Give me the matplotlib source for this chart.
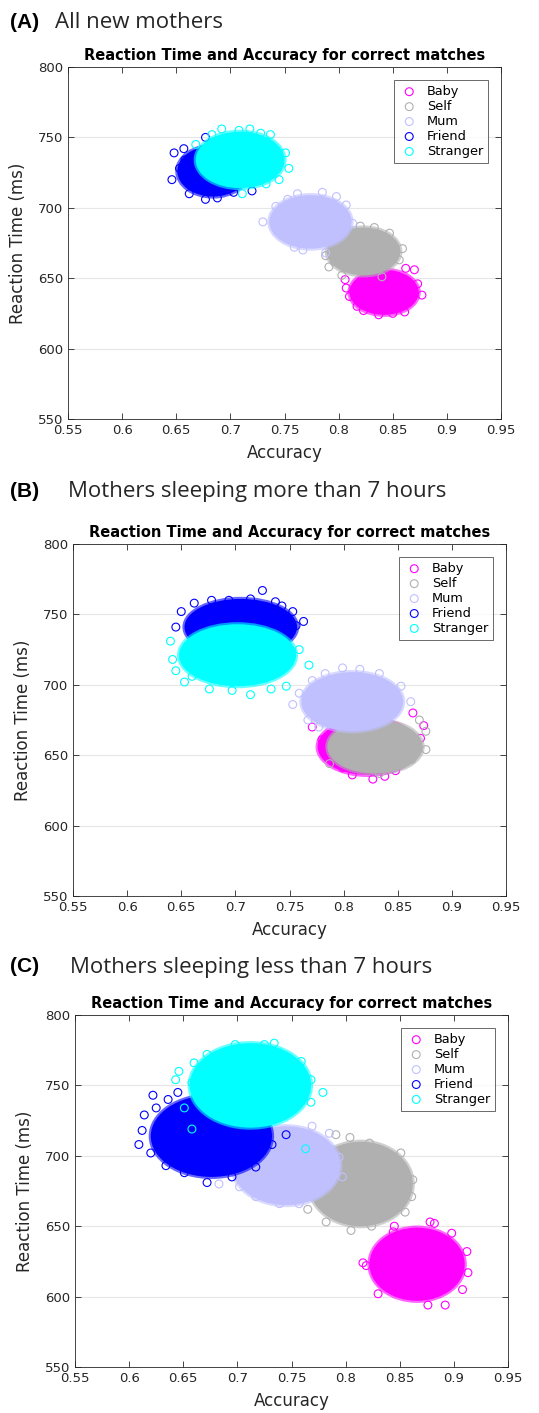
import numpy as np
import matplotlib.pyplot as plt
from matplotlib.patches import Ellipse
from matplotlib.colors import to_rgba

# groups, drawn in this order (Stranger ends on top)
groups = ['Baby', 'Self', 'Mum', 'Friend', 'Stranger']
colors = ['#ff00ff', '#b0b0b0', '#c0c0ff', '#0000ff', '#00ffff']

headings = ['All new mothers', 'Mothers sleeping more than 7 hours', 'Mothers sleeping less than 7 hours']
letters = ['(A)', '(B)', '(C)']

# dense body of each bootstrap cloud: centre and half-spread
acc_mid_A = [0.842, 0.823, 0.774, 0.684, 0.709]
rt_mid_A = [640, 669, 690, 726, 734]
acc_half_A = [0.032, 0.034, 0.038, 0.033, 0.041]
rt_half_A = [16, 17, 19, 18, 20]

acc_mid_B = [0.822, 0.829, 0.808, 0.705, 0.702]
rt_mid_B = [656, 656, 688, 741, 721]
acc_half_B = [0.046, 0.044, 0.047, 0.052, 0.054]
rt_half_B = [20, 19, 21, 20, 22]

acc_mid_C = [0.866, 0.814, 0.745, 0.676, 0.712]
rt_mid_C = [623, 680, 693, 714, 750]
acc_half_C = [0.044, 0.048, 0.050, 0.056, 0.056]
rt_half_C = [26, 30, 28, 29, 30]

# stray samples at the fringe of each cloud (accuracy, reaction time)
edge_A = {
    'Baby': [(0.807, 643), (0.810, 637), (0.817, 630), (0.837, 624), (0.850, 625), (0.862, 657),
             (0.870, 656), (0.877, 638), (0.861, 626), (0.873, 646), (0.823, 627), (0.806, 649)],
    'Self': [(0.788, 666), (0.791, 658), (0.803, 652), (0.840, 651), (0.859, 671), (0.847, 682),
             (0.820, 687), (0.856, 663), (0.833, 686), (0.796, 662)],
    'Mum': [(0.730, 690), (0.742, 701), (0.762, 710), (0.785, 711), (0.807, 702), (0.813, 689),
            (0.759, 672), (0.767, 670), (0.788, 668), (0.743, 684), (0.798, 708), (0.753, 706)],
    'Friend': [(0.648, 739), (0.657, 742), (0.646, 720), (0.662, 710), (0.677, 706), (0.703, 711),
               (0.720, 712), (0.668, 718), (0.658, 734), (0.677, 750), (0.653, 728), (0.688, 707)],
    'Stranger': [(0.692, 756), (0.683, 752), (0.728, 753), (0.737, 752), (0.751, 739), (0.754, 728),
                 (0.745, 720), (0.733, 717), (0.711, 710), (0.668, 745), (0.708, 755), (0.718, 756)],
}
edge_B = {
    'Baby': [(0.771, 670), (0.780, 661), (0.790, 647), (0.808, 636), (0.827, 633), (0.848, 639),
             (0.864, 680), (0.874, 671), (0.799, 641), (0.783, 655), (0.838, 635), (0.871, 662)],
    'Self': [(0.787, 644), (0.876, 654), (0.876, 667), (0.870, 675), (0.833, 637), (0.863, 647)],
    'Mum': [(0.753, 686), (0.759, 694), (0.771, 703), (0.799, 712), (0.833, 708), (0.853, 699),
            (0.862, 688), (0.767, 675), (0.777, 670), (0.815, 711), (0.783, 708)],
    'Friend': [(0.725, 767), (0.714, 761), (0.737, 759), (0.763, 745), (0.756, 742), (0.662, 758),
               (0.650, 752), (0.645, 741), (0.694, 760), (0.753, 752), (0.678, 760), (0.743, 756)],
    'Stranger': [(0.640, 731), (0.642, 718), (0.645, 710), (0.676, 697), (0.697, 696), (0.714, 693),
                 (0.747, 699), (0.759, 725), (0.768, 714), (0.660, 706), (0.733, 697), (0.653, 702)],
}
edge_C = {
    'Baby': [(0.844, 646), (0.882, 652), (0.898, 645), (0.912, 632), (0.816, 624), (0.878, 653),
             (0.845, 650), (0.876, 594), (0.892, 594), (0.830, 602), (0.913, 617), (0.908, 605),
             (0.819, 622)],
    'Self': [(0.791, 715), (0.804, 713), (0.822, 709), (0.851, 702), (0.862, 683), (0.861, 671),
             (0.855, 660), (0.824, 650), (0.805, 647), (0.782, 653), (0.765, 662), (0.767, 671)],
    'Mum': [(0.683, 680), (0.702, 678), (0.717, 671), (0.739, 666), (0.757, 666), (0.769, 721),
            (0.785, 716), (0.794, 699), (0.797, 685)],
    'Friend': [(0.622, 743), (0.614, 729), (0.612, 718), (0.609, 708), (0.620, 702), (0.634, 693),
               (0.651, 688), (0.672, 681), (0.695, 685), (0.717, 692), (0.732, 708), (0.745, 715),
               (0.625, 734), (0.636, 740), (0.645, 745)],
    'Stranger': [(0.646, 760), (0.643, 754), (0.660, 766), (0.672, 772), (0.698, 779), (0.725, 779),
                 (0.734, 780), (0.759, 767), (0.768, 754), (0.779, 745), (0.768, 738), (0.658, 752),
                 (0.763, 705), (0.651, 734), (0.658, 719)],
}

panels = [
    (acc_mid_A, rt_mid_A, acc_half_A, rt_half_A, edge_A),
    (acc_mid_B, rt_mid_B, acc_half_B, rt_half_B, edge_B),
    (acc_mid_C, rt_mid_C, acc_half_C, rt_half_C, edge_C),
]

x_ticks = [0.55, 0.6, 0.65, 0.7, 0.75, 0.8, 0.85, 0.9, 0.95]
x_labels = ['0.55', '0.6', '0.65', '0.7', '0.75', '0.8', '0.85', '0.9', '0.95']
y_ticks = [550, 600, 650, 700, 750, 800]

W, H = 539, 1413
fig = plt.figure(figsize=(W / 100, H / 100), dpi=100)

# axes boxes in pixels: left, top
ax_px = [(68, 67), (73, 544), (75, 1015)]
head_y = [22, 492, 967]
head_x = [55, 68, 70]
ax_w, ax_h = 433, 352

for i, (amid, rmid, ahalf, rhalf, edges) in enumerate(panels):
    left, top = ax_px[i]
    ax = fig.add_axes([left / W, 1 - (top + ax_h) / H, ax_w / W, ax_h / H])

    for g, name in enumerate(groups):
        c = colors[g]
        # solid core with a softer rim, like the overlapping open circles
        ax.add_patch(Ellipse((amid[g], rmid[g]), 2 * ahalf[g], 2 * rhalf[g],
                             facecolor=c, edgecolor=to_rgba(c, 0.6), lw=3, zorder=2 + g))
        pts = np.array(edges[name])
        ax.scatter(pts[:, 0], pts[:, 1], s=32, facecolors='none', edgecolors=c,
                   linewidths=0.8, zorder=2 + g, label=name)

    ax.set_xlim(0.55, 0.95)
    ax.set_ylim(550, 800)
    ax.set_xticks(x_ticks)
    ax.set_xticklabels(x_labels)
    ax.set_yticks(y_ticks)
    ax.tick_params(direction='in', top=True, right=True, labelsize=9.5,
                   colors='#262626', length=4, width=0.6)
    ax.yaxis.grid(True, color='#e6e6e6', lw=0.8, zorder=0)
    ax.set_axisbelow(True)
    for s in ax.spines.values():
        s.set_color('#262626')
        s.set_linewidth(0.6)
    ax.set_xlabel('Accuracy', fontsize=12, color='#262626', labelpad=5)
    ax.set_ylabel('Reaction Time (ms)', fontsize=12, color='#262626', labelpad=8)
    ax.set_title('Reaction Time and Accuracy for correct matches', fontsize=10.5,
                 fontweight='bold', pad=5)

    leg = ax.legend(loc='upper right', fontsize=9.3, frameon=True, fancybox=False,
                    edgecolor='#262626', borderaxespad=1.0, handletextpad=0.6,
                    labelspacing=0.15, borderpad=0.4, handlelength=1.5)
    leg.get_frame().set_linewidth(0.6)

    fig.text(10 / W, 1 - head_y[i] / H, letters[i], fontsize=15, fontweight='bold',
             family='Liberation Sans', va='center', ha='left')
    fig.text(head_x[i] / W, 1 - head_y[i] / H, headings[i], fontsize=16,
             family='Open Sans', va='center', ha='left', color='#262626')

fig.savefig('out.png', dpi=100)
